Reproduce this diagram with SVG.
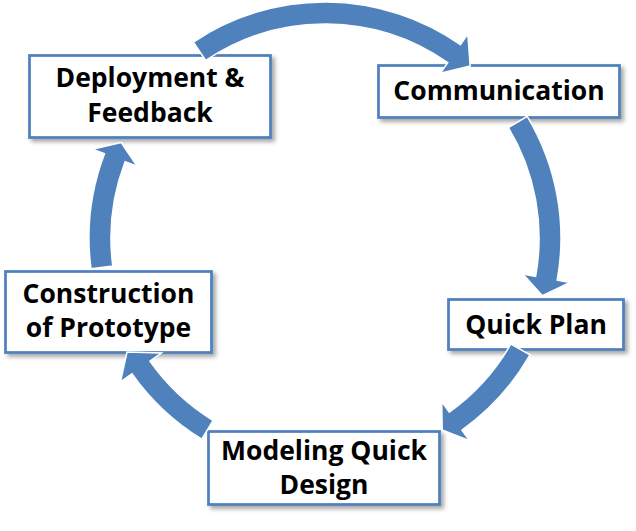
<svg xmlns="http://www.w3.org/2000/svg" width="636" height="531" viewBox="0 0 636 531">
  <defs>
    <filter id="shadow" x="-10%" y="-10%" width="125%" height="130%">
      <feDropShadow dx="3" dy="3" stdDeviation="2" flood-color="#000" flood-opacity="0.35"/>
    </filter>
  </defs>
  <style>
    .box { fill: #ffffff; stroke: #4F81BD; stroke-width: 2.75; filter: url(#shadow); }
    .lbl { font-family: "Open Sans", "DejaVu Sans", sans-serif; font-weight: 700; font-size: 26.5px; fill: #000000; text-anchor: middle; }
    .arrow { fill: #4F81BD; stroke: #ffffff; stroke-width: 1.5; stroke-linejoin: miter; }
  </style>
  <rect width="636" height="531" fill="#ffffff"/>

  <g id="node-deployment">
    <rect class="box" x="29.5" y="55.5" width="241" height="82"/>
    <text class="lbl" x="150" y="87">Deployment &amp;</text>
    <text class="lbl" x="150" y="122">Feedback</text>
  </g>
  <g id="node-communication">
    <rect class="box" x="378.5" y="65.5" width="241" height="52"/>
    <text class="lbl" x="499" y="100">Communication</text>
  </g>
  <g id="node-quickplan">
    <rect class="box" x="448.5" y="299.5" width="175" height="50"/>
    <text class="lbl" x="536" y="334">Quick Plan</text>
  </g>
  <g id="node-modeling">
    <rect class="box" x="208.5" y="431.5" width="231" height="73"/>
    <text class="lbl" x="324" y="460">Modeling Quick</text>
    <text class="lbl" x="324" y="494">Design</text>
  </g>
  <g id="node-construction">
    <rect class="box" x="5.5" y="271.5" width="206" height="81"/>
    <text class="lbl" x="108.5" y="303">Construction</text>
    <text class="lbl" x="108.5" y="337">of Prototype</text>
  </g>

  <g id="connectors">
    <path class="arrow" d="M193.4,42.1 A236,236 0 0 1 460.4,44.7 L467.8,34.0 L470.2,66.1 L440.3,73.3 L447.7,62.7 A214,214 0 0 0 205.7,60.4 Z"/>
    <path class="arrow" d="M527.2,116.3 A236,236 0 0 1 557.2,280.2 L570.0,282.5 L542.4,295.8 L522.8,273.9 L535.6,276.3 A214,214 0 0 0 508.4,127.6 Z"/>
    <path class="arrow" d="M530.0,354.9 A236,236 0 0 1 462.0,430.1 L469.6,440.7 L442.2,430.0 L441.7,401.6 L449.3,412.2 A214,214 0 0 0 510.9,344.0 Z"/>
    <path class="arrow" d="M201.7,439.2 A236,236 0 0 1 131.9,373.7 L120.5,381.8 L127,352 L161.4,353.0 L149.9,361.1 A214,214 0 0 0 213.2,420.5 Z"/>
    <path class="arrow" d="M91.0,268.8 A236,236 0 0 1 104.5,153.8 L92.4,149.2 L121.2,142.6 L137.2,166.3 L125.1,161.7 A214,214 0 0 0 112.8,265.9 Z"/>
  </g>
</svg>
